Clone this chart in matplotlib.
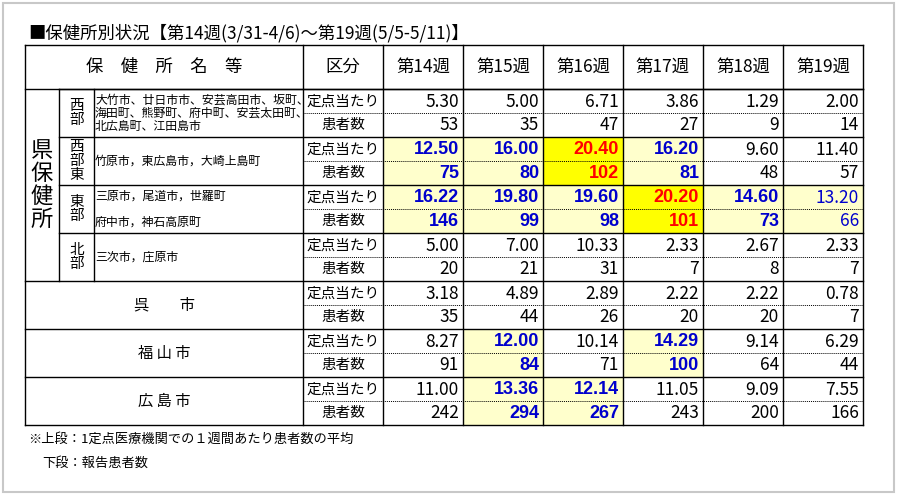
import matplotlib
matplotlib.use("Agg")
import matplotlib.pyplot as plt
from matplotlib.patches import Rectangle

plt.rcParams["font.family"] = "Noto Sans CJK JP"

title = "■保健所別状況【第14週(3/31-4/6)～第19週(5/5-5/11)】"
weeks = ["第14週", "第15週", "第16週", "第17週", "第18週", "第19週"]
row_labels = ["西\n部", "西\n部\n東", "東\n部", "北\n部", "呉　　市", "福 山 市", "広 島 市"]
row_areas = [
    "大竹市、廿日市市、安芸高田市、坂町、\n海田町、熊野町、府中町、安芸太田町、\n北広島町、江田島市",
    "竹原市，東広島市，大崎上島町",
    "三原市，尾道市，世羅町\n\n府中市，神石高原町",
    "三次市，庄原市",
    "", "", "",
]
rate = [
    [5.30, 5.00, 6.71, 3.86, 1.29, 2.00],
    [12.50, 16.00, 20.40, 16.20, 9.60, 11.40],
    [16.22, 19.80, 19.60, 20.20, 14.60, 13.20],
    [5.00, 7.00, 10.33, 2.33, 2.67, 2.33],
    [3.18, 4.89, 2.89, 2.22, 2.22, 0.78],
    [8.27, 12.00, 10.14, 14.29, 9.14, 6.29],
    [11.00, 13.36, 12.14, 11.05, 9.09, 7.55],
]
patients = [
    [53, 35, 47, 27, 9, 14],
    [75, 80, 102, 81, 48, 57],
    [146, 99, 98, 101, 73, 66],
    [20, 21, 31, 7, 8, 7],
    [35, 44, 26, 20, 20, 7],
    [91, 84, 71, 100, 64, 44],
    [242, 294, 267, 243, 200, 166],
]
# 0 normal, 1 light (blue bold), 2 alert (red on yellow), 3 light (blue thin)
level = [
    [0, 0, 0, 0, 0, 0],
    [1, 1, 2, 1, 0, 0],
    [1, 1, 1, 2, 1, 3],
    [0, 0, 0, 0, 0, 0],
    [0, 0, 0, 0, 0, 0],
    [0, 1, 0, 1, 0, 0],
    [0, 1, 1, 0, 0, 0],
]
notes = ["※上段：1定点医療機関での１週間あたり患者数の平均", "下段：報告患者数"]

fig = plt.figure(figsize=(8.98, 4.96), dpi=100)
ax = fig.add_axes([0, 0, 1, 1])
ax.set_xlim(0, 898)
ax.set_ylim(496, 0)
ax.axis("off")
ax.add_patch(Rectangle((3, 3), 891, 489, fill=False, ec="#c8c8c8", lw=1.5))

L, C1, C2, C3, C4 = 25, 59, 94, 303, 383
CW = 80
R = C4 + CW * 6
HT, HB, RH = 45, 89, 48

ax.text(28, 33, title, fontsize=12.5, va="center", ha="left")
ax.text((L + C3) / 2, (HT + HB) / 2, "保　健　所　名　等", fontsize=12.5, ha="center", va="center")
ax.text((C3 + C4) / 2, (HT + HB) / 2, "区分", fontsize=12.5, ha="center", va="center")
for j, w in enumerate(weeks):
    ax.text(C4 + CW * j + CW / 2, (HT + HB) / 2, w, fontsize=12.5, ha="center", va="center")

fills = {1: "#ffffcc", 2: "#ffff00", 3: "#ffffcc"}
colors = {0: "black", 1: "#0000cc", 2: "#ff0000", 3: "#0000cc"}
for i in range(len(rate)):
    top = HB + RH * i
    for j in range(6):
        lv = level[i][j]
        if lv:
            ax.add_patch(Rectangle((C4 + CW * j, top), CW, RH, fc=fills[lv], ec="none"))
        wt = "bold" if lv in (1, 2) else "normal"
        fam = "Liberation Sans" if lv in (1, 2) else "Noto Sans CJK JP"
        fs = 13 if lv in (1, 2) else 12.5
        x = C4 + CW * (j + 1) - 4
        ax.text(x, top + RH * 0.27, f"{rate[i][j]:.2f}", fontsize=fs, ha="right", va="center",
                color=colors[lv], fontweight=wt, family=fam)
        ax.text(x, top + RH * 0.75, f"{patients[i][j]}", fontsize=fs, ha="right", va="center",
                color=colors[lv], fontweight=wt, family=fam)
    ax.text((C3 + C4) / 2, top + RH * 0.27, "定点当たり", fontsize=10.5, ha="center", va="center")
    ax.text((C3 + C4) / 2, top + RH * 0.75, "患者数", fontsize=10.5, ha="center", va="center")
    ax.plot([C3, R], [top + RH / 2] * 2, color="black", lw=0.7, ls=(0, (1, 1)))
    if i < 4:
        ax.text((C1 + C2) / 2, top + RH / 2, row_labels[i], fontsize=10.5, ha="center", va="center",
                linespacing=1.0)
        ax.text(C2 + 1, top + RH / 2, row_areas[i], fontsize=8.6, ha="left", va="center",
                linespacing=1.0)
        ax.plot([C1, R], [top, top], color="black", lw=1)
    else:
        ax.text((L + C3) / 2, top + RH / 2, row_labels[i], fontsize=11, ha="center", va="center")
        ax.plot([L, R], [top, top], color="black", lw=1)

ax.text((L + C1) / 2, HB + 2 * RH, "県\n保\n健\n所", fontsize=16, ha="center", va="center",
        linespacing=1.0)

bottom = HB + RH * len(rate)
ax.plot([L, R], [HT, HT], color="black", lw=1)
ax.plot([L, R], [HB, HB], color="black", lw=1)
ax.plot([L, R], [bottom, bottom], color="black", lw=1)
ax.plot([L, L], [HT, bottom], color="black", lw=1)
ax.plot([R, R], [HT, bottom], color="black", lw=1)
ax.plot([C1, C1], [HB, HB + 4 * RH], color="black", lw=1)
ax.plot([C2, C2], [HB, HB + 4 * RH], color="black", lw=1)
for x in [C3] + [C4 + CW * j for j in range(6)]:
    ax.plot([x, x], [HT, bottom], color="black", lw=1)

ax.text(28, 439, notes[0], fontsize=9.5, ha="left", va="center")
ax.text(42, 463, notes[1], fontsize=9.5, ha="left", va="center")

fig.savefig("out.png", dpi=100)
